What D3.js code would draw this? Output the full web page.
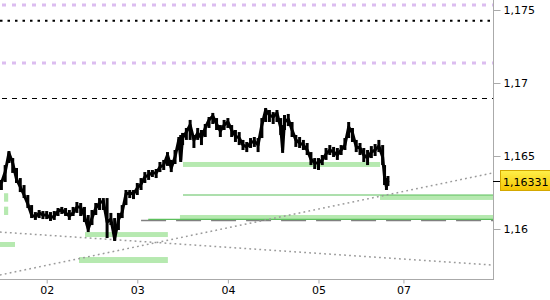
<!DOCTYPE html>
<html>
<head>
<meta charset="utf-8">
<script src="https://cdn.jsdelivr.net/npm/d3@7"></script>
<style>
  body { margin: 0; background: #fff; }
  text { font-family: "DejaVu Sans", Verdana, sans-serif; font-size: 11px; }
</style>
</head>
<body>
<div id="chart"></div>
<script>
// hours from day 02 00:00, then close / high / low of each bar
const hours = [-12, -11, -10, -9, -8, -7, -6, -5, -4, -3, -2, -1, 0, 1, 2, 3, 4, 5, 6, 7, 8, 9, 10, 11, 12, 13, 14, 15, 16, 17, 18, 19, 20, 21, 22, 23, 24, 25, 26, 27, 28, 29, 30, 31, 32, 33, 34, 35, 35.5, 36, 37, 38, 39, 40, 41, 42, 43, 44, 45, 46, 47, 48, 49, 50, 51, 52, 53, 54, 55, 56, 57, 58, 59, 60, 61, 62, 62.5, 63, 64, 65, 66, 67, 68, 69, 70, 71, 72, 73, 74, 75, 76, 77, 78, 79, 80, 81, 82, 83, 84, 85, 86, 87, 88, 89, 89.5, 90, 90.4];
const prices = [1.16315, 1.1639, 1.16521, 1.16452, 1.16342, 1.16288, 1.16233, 1.16171, 1.16096, 1.16082, 1.1611, 1.16096, 1.16096, 1.16075, 1.16089, 1.16123, 1.1613, 1.1611, 1.16089, 1.1611, 1.16151, 1.16151, 1.16089, 1.16, 1.16075, 1.16144, 1.16178, 1.16192, 1.16048, 1.16068, 1.15932, 1.16062, 1.16116, 1.1624, 1.16247, 1.1624, 1.16281, 1.16308, 1.16356, 1.1637, 1.16384, 1.16384, 1.16425, 1.16438, 1.16507, 1.16418, 1.16493, 1.1661, 1.16473, 1.16623, 1.16664, 1.16712, 1.1661, 1.16658, 1.16623, 1.16692, 1.16747, 1.16774, 1.16719, 1.16671, 1.16712, 1.16733, 1.16678, 1.16637, 1.16623, 1.16575, 1.16562, 1.16589, 1.16603, 1.16575, 1.16712, 1.16815, 1.16781, 1.16767, 1.16795, 1.16692, 1.16541, 1.16733, 1.16753, 1.16678, 1.1661, 1.16589, 1.16575, 1.16541, 1.16479, 1.16452, 1.16452, 1.16473, 1.16514, 1.16541, 1.16527, 1.16507, 1.16541, 1.16575, 1.16699, 1.16658, 1.16562, 1.16555, 1.16507, 1.16486, 1.16527, 1.16541, 1.16568, 1.16493, 1.16356, 1.16288, 1.16331];
const highs = [1.16336, 1.16438, 1.16534, 1.16486, 1.16418, 1.16349, 1.16301, 1.16233, 1.16164, 1.16116, 1.1613, 1.16123, 1.16123, 1.16116, 1.16123, 1.16144, 1.16151, 1.16144, 1.1613, 1.16151, 1.16185, 1.16178, 1.16151, 1.16096, 1.1613, 1.16178, 1.16212, 1.16212, 1.16212, 1.1611, 1.16075, 1.1611, 1.16164, 1.16267, 1.16267, 1.16267, 1.16315, 1.16349, 1.1639, 1.16404, 1.16404, 1.16411, 1.16459, 1.16473, 1.16527, 1.16473, 1.16541, 1.1663, 1.16644, 1.16658, 1.16692, 1.16747, 1.16644, 1.16692, 1.16678, 1.16719, 1.16767, 1.16795, 1.1676, 1.16712, 1.16747, 1.1676, 1.16712, 1.16678, 1.16664, 1.1661, 1.16596, 1.16623, 1.1663, 1.16623, 1.1676, 1.16829, 1.16815, 1.16801, 1.16815, 1.1676, 1.16712, 1.16781, 1.16788, 1.16733, 1.16644, 1.1663, 1.1661, 1.16589, 1.16527, 1.16486, 1.16486, 1.16507, 1.16555, 1.16575, 1.16562, 1.16555, 1.16575, 1.16623, 1.16733, 1.16692, 1.1661, 1.16589, 1.16555, 1.16541, 1.16568, 1.16582, 1.1661, 1.16575, 1.16438, 1.16349, 1.16363];
const lows = [1.16267, 1.16322, 1.16452, 1.16384, 1.16315, 1.16253, 1.16212, 1.16144, 1.16075, 1.16062, 1.16075, 1.16068, 1.16068, 1.16055, 1.16062, 1.16089, 1.16103, 1.16089, 1.16062, 1.16089, 1.1611, 1.16089, 1.16048, 1.15979, 1.16027, 1.16096, 1.1613, 1.1613, 1.15938, 1.16027, 1.15918, 1.15993, 1.16075, 1.16164, 1.16212, 1.16205, 1.16233, 1.16267, 1.16315, 1.16336, 1.16356, 1.16349, 1.1639, 1.16404, 1.16432, 1.1639, 1.16445, 1.16541, 1.16459, 1.16575, 1.1661, 1.1661, 1.16555, 1.1661, 1.16575, 1.1663, 1.16692, 1.16719, 1.16678, 1.1663, 1.16678, 1.16692, 1.1663, 1.16596, 1.16575, 1.16541, 1.16527, 1.16555, 1.16562, 1.16527, 1.16623, 1.16733, 1.16733, 1.16719, 1.16733, 1.16644, 1.16521, 1.16678, 1.16705, 1.1663, 1.16562, 1.16555, 1.16541, 1.16507, 1.16438, 1.16411, 1.16404, 1.16438, 1.16473, 1.16507, 1.16493, 1.16473, 1.16507, 1.16541, 1.16623, 1.16596, 1.16527, 1.16507, 1.16459, 1.16438, 1.16486, 1.165, 1.16527, 1.16438, 1.16301, 1.16267, 1.16295];
const lastPrice = 1.16331;

// x axis
const dayTicks = [0, 24, 48, 72, 94.5];
const dayLabels = ["02", "03", "04", "05", "07"];
// y axis
const priceTicks = [1.16, 1.165, 1.17, 1.175];
const priceLabels = ["1,16", "1,165", "1,17", "1,175"];

// support / resistance zones: [from hour, to hour, low, high]
const zones = [
  [36.1, 88.3, 1.16425, 1.16459],
  [88.3, 120, 1.16199, 1.16233],
  [35.3, 120, 1.16068, 1.16096],
  [-11.3, -10.2, 1.16187, 1.16245],
  [-11.3, -10.2, 1.16096, 1.16153],
  [-13, -8.4, 1.15877, 1.15911],
  [10.15, 32.1, 1.15945, 1.15979],
  [8.56, 32.1, 1.15767, 1.15808],
];
// full-width levels
const levelsLavender = [1.17534, 1.17137];
const levelDotted = 1.17427;
const levelDashed = 1.16897;
// partial levels: [from hour, price]
const greenLines = [[36.1, 1.16233], [26.9, 1.16066]];
const grayLine = [25.0, 1.16059];
// trend lines: [[h0, p0], [h1, p1]]
const trends = [
  [[-12.4, 1.15685], [118.2, 1.16384]],
  [[-12.4, 1.15979], [118.2, 1.15753]],
];

const width = 550;
const height = 300;
const plotW = 493;
const plotH = 279;
const axisColor = "#aaaaaa";

const svg = d3.select("#chart").append("svg")
  .attr("width", width).attr("height", height)
  .attr("viewBox", [0, 0, width, height]);

const x = d3.scaleLinear().domain([-12.37, 118.23]).range([0, plotW]);
const y = d3.scaleLinear().domain([1.16, 1.175]).range([229, 10]);

svg.append("defs").append("clipPath").attr("id", "plot")
  .append("rect").attr("width", plotW).attr("height", plotH);

const grad = svg.select("defs").append("linearGradient")
  .attr("id", "gold").attr("x1", "0%").attr("x2", "0%").attr("y1", "0%").attr("y2", "100%");
grad.append("stop").attr("offset", "0%").style("stop-color", "#fff04a");
grad.append("stop").attr("offset", "100%").style("stop-color", "#f5c400");

const plot = svg.append("g").attr("clip-path", "url(#plot)");

// zones
plot.selectAll(".zone").data(zones).enter().append("rect")
  .attr("x", (d) => x(d[0]))
  .attr("width", (d) => x(d[1]) - x(d[0]))
  .attr("y", (d) => y(d[3]))
  .attr("height", (d) => y(d[2]) - y(d[3]))
  .attr("fill", "#b6e9b0");

// horizontal levels
plot.selectAll(".lav").data(levelsLavender).enter().append("line")
  .attr("x1", 0).attr("x2", plotW)
  .attr("y1", (d) => y(d)).attr("y2", (d) => y(d))
  .attr("stroke", "#dcbdf0").attr("stroke-width", 3)
  .attr("stroke-dasharray", "4,6").attr("stroke-dashoffset", -2);

plot.append("line")
  .attr("x1", 0).attr("x2", plotW)
  .attr("y1", y(levelDotted)).attr("y2", y(levelDotted))
  .attr("stroke", "#000").attr("stroke-width", 2)
  .attr("stroke-dasharray", "2.5,5");

plot.append("line")
  .attr("x1", 2).attr("x2", plotW)
  .attr("y1", Math.round(y(levelDashed)) + 0.5).attr("y2", Math.round(y(levelDashed)) + 0.5)
  .attr("stroke", "#000").attr("stroke-width", 1)
  .attr("stroke-dasharray", "5,5");

plot.append("line")
  .attr("x1", x(grayLine[0])).attr("x2", plotW)
  .attr("y1", y(grayLine[1])).attr("y2", y(grayLine[1]))
  .attr("stroke", "#808080").attr("stroke-width", 1.5)
  .attr("stroke-dasharray", "25,10");

plot.selectAll(".gl").data(greenLines).enter().append("line")
  .attr("x1", (d) => x(d[0])).attr("x2", plotW)
  .attr("y1", (d) => y(d[1])).attr("y2", (d) => y(d[1]))
  .attr("stroke", "#5cbf5c").attr("stroke-width", 1.2);

// trend lines
plot.selectAll(".trend").data(trends).enter().append("line")
  .attr("x1", (d) => x(d[0][0])).attr("y1", (d) => y(d[0][1]))
  .attr("x2", (d) => x(d[1][0])).attr("y2", (d) => y(d[1][1]))
  .attr("stroke", "#9a9a9a").attr("stroke-width", 1.5)
  .attr("stroke-dasharray", "1.8,3.2");

// price bars (high-low) and close line
plot.selectAll(".bar").data(hours).enter().append("line")
  .attr("x1", (d) => x(d)).attr("x2", (d) => x(d))
  .attr("y1", (d, i) => y(highs[i])).attr("y2", (d, i) => y(lows[i]))
  .attr("stroke", "#000").attr("stroke-width", 3);

const line = d3.line()
  .x((d, i) => x(hours[i]))
  .y((d) => y(d));

plot.append("path")
  .datum(prices)
  .attr("fill", "none")
  .attr("stroke", "#000")
  .attr("stroke-width", 3)
  .attr("stroke-linejoin", "round")
  .attr("d", line);

// axes
const xAxis = (g) =>
  g.attr("transform", `translate(0,${plotH + 0.5})`)
    .call(d3.axisBottom(x).tickValues(dayTicks).tickFormat((d, i) => dayLabels[i]).tickSize(4).tickSizeOuter(0).tickPadding(3))
    .call((g) => g.select(".domain").remove())
    .call((g) => g.selectAll(".tick line").attr("stroke", axisColor))
    .call((g) => g.selectAll(".tick text").attr("fill", "#000").style("font-size", "11px").attr("font-family", null));

const yAxis = (g) =>
  g.attr("transform", `translate(${plotW + 0.5},0)`)
    .call(d3.axisRight(y).tickValues(priceTicks).tickFormat((d, i) => priceLabels[i]).tickSize(7).tickPadding(3))
    .call((g) => g.select(".domain").remove())
    .call((g) => g.selectAll(".tick line").attr("stroke", axisColor))
    .call((g) => g.selectAll(".tick text").attr("fill", "#000").style("font-size", "11px").attr("font-family", null));

svg.append("g").call(xAxis);
svg.append("g").call(yAxis);

svg.append("line")
  .attr("x1", 0).attr("x2", plotW + 1).attr("y1", plotH + 0.5).attr("y2", plotH + 0.5)
  .attr("stroke", axisColor);
svg.append("line")
  .attr("x1", plotW + 0.5).attr("x2", plotW + 0.5).attr("y1", 0).attr("y2", plotH + 1)
  .attr("stroke", axisColor);

// last price tag
const yl = Math.round(y(lastPrice));
svg.append("line")
  .attr("x1", plotW).attr("x2", plotW + 7).attr("y1", yl + 0.5).attr("y2", yl + 0.5)
  .attr("stroke", "#000");
svg.append("rect")
  .attr("x", plotW + 7.5).attr("y", yl - 10.5)
  .attr("width", 50).attr("height", 20)
  .attr("fill", "url(#gold)").attr("stroke", "#d4a800");
svg.append("text")
  .attr("x", plotW + 10).attr("y", yl + 4.5)
  .attr("fill", "#000")
  .text(d3.format(".5f")(lastPrice).replace(".", ","));
</script>
</body>
</html>
